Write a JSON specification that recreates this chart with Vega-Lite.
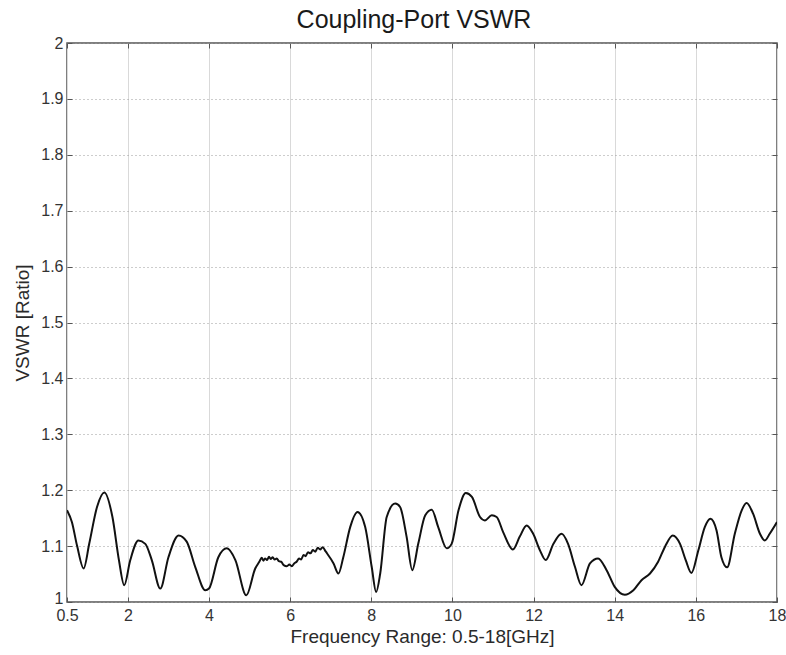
{
  "$schema": "https://vega.github.io/schema/vega-lite/v6.json",
  "width": 710,
  "height": 559,
  "autosize": {"type": "none"},
  "padding": {"left": 67, "top": 43, "right": 9, "bottom": 53},
  "background": "white",
  "title": {"text": "Coupling-Port VSWR", "fontSize": 25, "font": "Liberation Sans", "fontWeight": "normal", "color": "#1a1a1a", "offset": 2, "dx": -8},
  "config": {
    "view": {"stroke": "#555", "strokeWidth": 1.5},
    "axis": {
      "labelFont": "Liberation Sans", "titleFont": "Liberation Sans",
      "labelFontSize": 16, "titleFontSize": 19, "titleFontWeight": "normal",
      "labelColor": "#333", "titleColor": "#2a2a2a",
      "domain": false, "tickColor": "#555", "tickSize": -5, "tickWidth": 1
    }
  },
  "data": {"values": [
    {"f": 0.5, "v": 1.164}, {"f": 0.62, "v": 1.143}, {"f": 0.75, "v": 1.1}, {"f": 0.91, "v": 1.06},
    {"f": 1.05, "v": 1.105}, {"f": 1.24, "v": 1.17}, {"f": 1.42, "v": 1.196}, {"f": 1.62, "v": 1.152},
    {"f": 1.78, "v": 1.075}, {"f": 1.91, "v": 1.03}, {"f": 2.06, "v": 1.075}, {"f": 2.26, "v": 1.11},
    {"f": 2.43, "v": 1.104}, {"f": 2.59, "v": 1.075}, {"f": 2.8, "v": 1.024}, {"f": 3.0, "v": 1.08},
    {"f": 3.25, "v": 1.119}, {"f": 3.45, "v": 1.108}, {"f": 3.66, "v": 1.063}, {"f": 3.91, "v": 1.021},
    {"f": 4.0, "v": 1.024}, {"f": 4.23, "v": 1.08}, {"f": 4.44, "v": 1.096}, {"f": 4.65, "v": 1.075},
    {"f": 4.92, "v": 1.012}, {"f": 5.14, "v": 1.06}, {"f": 5.24, "v": 1.072}, {"f": 5.3, "v": 1.079}, {"f": 5.34, "v": 1.074},
    {"f": 5.38, "v": 1.078}, {"f": 5.43, "v": 1.075}, {"f": 5.48, "v": 1.081}, {"f": 5.52, "v": 1.077}, {"f": 5.57, "v": 1.08},
    {"f": 5.62, "v": 1.076}, {"f": 5.67, "v": 1.078}, {"f": 5.72, "v": 1.073}, {"f": 5.78, "v": 1.072}, {"f": 5.84, "v": 1.066},
    {"f": 5.92, "v": 1.064}, {"f": 5.98, "v": 1.067}, {"f": 6.04, "v": 1.064}, {"f": 6.1, "v": 1.069}, {"f": 6.16, "v": 1.072},
    {"f": 6.22, "v": 1.078}, {"f": 6.27, "v": 1.076}, {"f": 6.33, "v": 1.084}, {"f": 6.38, "v": 1.082}, {"f": 6.44, "v": 1.089},
    {"f": 6.5, "v": 1.087}, {"f": 6.56, "v": 1.093}, {"f": 6.62, "v": 1.09}, {"f": 6.68, "v": 1.097}, {"f": 6.74, "v": 1.094},
    {"f": 6.8, "v": 1.098}, {"f": 6.88, "v": 1.09}, {"f": 7.07, "v": 1.069}, {"f": 7.19, "v": 1.051},
    {"f": 7.31, "v": 1.08}, {"f": 7.48, "v": 1.134}, {"f": 7.66, "v": 1.161}, {"f": 7.85, "v": 1.134},
    {"f": 8.01, "v": 1.063}, {"f": 8.12, "v": 1.018}, {"f": 8.22, "v": 1.051}, {"f": 8.38, "v": 1.152},
    {"f": 8.59, "v": 1.176}, {"f": 8.71, "v": 1.17}, {"f": 8.87, "v": 1.117}, {"f": 9.01, "v": 1.057},
    {"f": 9.16, "v": 1.105}, {"f": 9.33, "v": 1.155}, {"f": 9.49, "v": 1.165}, {"f": 9.65, "v": 1.134},
    {"f": 9.86, "v": 1.096}, {"f": 9.98, "v": 1.104}, {"f": 10.15, "v": 1.164}, {"f": 10.33, "v": 1.195},
    {"f": 10.48, "v": 1.188}, {"f": 10.68, "v": 1.152}, {"f": 10.8, "v": 1.146}, {"f": 10.97, "v": 1.155},
    {"f": 11.09, "v": 1.152}, {"f": 11.25, "v": 1.125}, {"f": 11.49, "v": 1.094}, {"f": 11.66, "v": 1.117},
    {"f": 11.83, "v": 1.137}, {"f": 11.99, "v": 1.122}, {"f": 12.16, "v": 1.092}, {"f": 12.3, "v": 1.075},
    {"f": 12.49, "v": 1.104}, {"f": 12.69, "v": 1.122}, {"f": 12.85, "v": 1.104}, {"f": 13.02, "v": 1.063},
    {"f": 13.18, "v": 1.03}, {"f": 13.39, "v": 1.069}, {"f": 13.59, "v": 1.078}, {"f": 13.8, "v": 1.057},
    {"f": 14.0, "v": 1.027}, {"f": 14.25, "v": 1.013}, {"f": 14.46, "v": 1.021}, {"f": 14.66, "v": 1.039},
    {"f": 14.87, "v": 1.051}, {"f": 15.07, "v": 1.072}, {"f": 15.24, "v": 1.099}, {"f": 15.43, "v": 1.119},
    {"f": 15.61, "v": 1.104}, {"f": 15.75, "v": 1.075}, {"f": 15.89, "v": 1.052}, {"f": 16.06, "v": 1.092},
    {"f": 16.22, "v": 1.134}, {"f": 16.36, "v": 1.149}, {"f": 16.51, "v": 1.128}, {"f": 16.63, "v": 1.08},
    {"f": 16.77, "v": 1.062}, {"f": 16.96, "v": 1.122}, {"f": 17.13, "v": 1.164}, {"f": 17.25, "v": 1.177},
    {"f": 17.41, "v": 1.158}, {"f": 17.58, "v": 1.122}, {"f": 17.7, "v": 1.11}, {"f": 17.82, "v": 1.122},
    {"f": 18.0, "v": 1.143}
  ]},
  "resolve": {"axis": {"x": "independent", "y": "independent"}},
  "layer": [
    {
      "mark": {"type": "line", "color": "#111", "strokeWidth": 2, "interpolate": "monotone", "clip": true},
      "encoding": {
        "x": {"field": "f", "type": "quantitative", "title": "Frequency Range: 0.5-18[GHz]",
          "scale": {"domain": [0.5, 18], "nice": false, "zero": false},
          "axis": {"values": [0.5, 2, 4, 6, 8, 10, 12, 14, 16, 18], "format": "~g", "labelPadding": 10, "titlePadding": 4, "labelFlush": false,
            "grid": true, "gridColor": "#d9d9d9", "gridWidth": 1}},
        "y": {"field": "v", "type": "quantitative", "title": "VSWR [Ratio]",
          "scale": {"domain": [1, 2], "nice": false, "zero": false},
          "axis": {"values": [1, 1.1, 1.2, 1.3, 1.4, 1.5, 1.6, 1.7, 1.8, 1.9, 2], "format": "~g", "labelPadding": 9, "titlePadding": 8, "labelFlush": false,
            "labelOffset": {"condition": {"test": "datum.value == 1", "value": -4}, "value": 0},
            "grid": true, "gridColor": "#9a9a9a", "gridDash": [1, 3], "gridWidth": 1}}
      }
    },
    {
      "mark": {"type": "line", "opacity": 0},
      "encoding": {
        "x": {"field": "f", "type": "quantitative",
          "axis": {"orient": "top", "values": [0.5, 2, 4, 6, 8, 10, 12, 14, 16, 18], "labels": false, "title": null, "grid": false}},
        "y": {"field": "v", "type": "quantitative",
          "axis": {"orient": "right", "values": [1, 1.1, 1.2, 1.3, 1.4, 1.5, 1.6, 1.7, 1.8, 1.9, 2], "labels": false, "title": null, "grid": false}}
      }
    }
  ]
}
